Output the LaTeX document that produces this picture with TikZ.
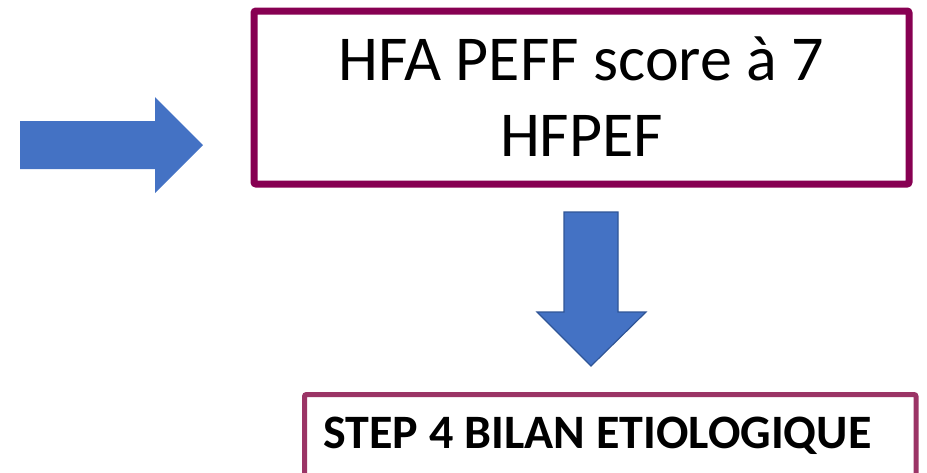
\documentclass[tikz,border=0pt]{standalone}
\usepackage{fontspec}
\setmainfont{Carlito}
\definecolor{plum}{HTML}{870052}
\definecolor{rose}{HTML}{9B3466}
\definecolor{arrowfill}{HTML}{4472C4}
\definecolor{arrowline}{HTML}{2F5597}
\begin{document}
\begin{tikzpicture}[x=1pt,y=-1pt,
  blockarrow/.style={fill=arrowfill,draw=arrowline,line width=1.2pt,line join=miter},
  mainbox/.style={draw=plum,line width=7pt,rounded corners=2pt,fill=white},
  stepbox/.style={draw=rose,line width=5pt,rounded corners=2pt,fill=white}]
\useasboundingbox (0,0) rectangle (927,472);
\clip (0,0) rectangle (927,472);

% right-pointing block arrow
\fill[arrowfill] (20,121) -- (155,121) -- (155,97) -- (203,145) -- (155,193) -- (155,169) -- (20,169) -- cycle;

% main result box
\draw[mainbox] (254,11) rectangle (909,184);
\node[align=center,font=\fontsize{64}{76}\selectfont] (score) at (581.5,97)
  {HFA PEFF score à 7\\HFPEF};

% downward block arrow
\draw[blockarrow] (564,212) -- (618,212) -- (618,312) -- (646,312) -- (591,366) -- (537,312) -- (564,312) -- cycle;

% next step box
\draw[stepbox] (304.5,394.5) rectangle (916,490);
\node[anchor=west,font=\bfseries\fontsize{48}{56}\selectfont] (step) at (320,435.5)
  {STEP 4 BILAN ETIOLOGIQUE};
\end{tikzpicture}
\end{document}
